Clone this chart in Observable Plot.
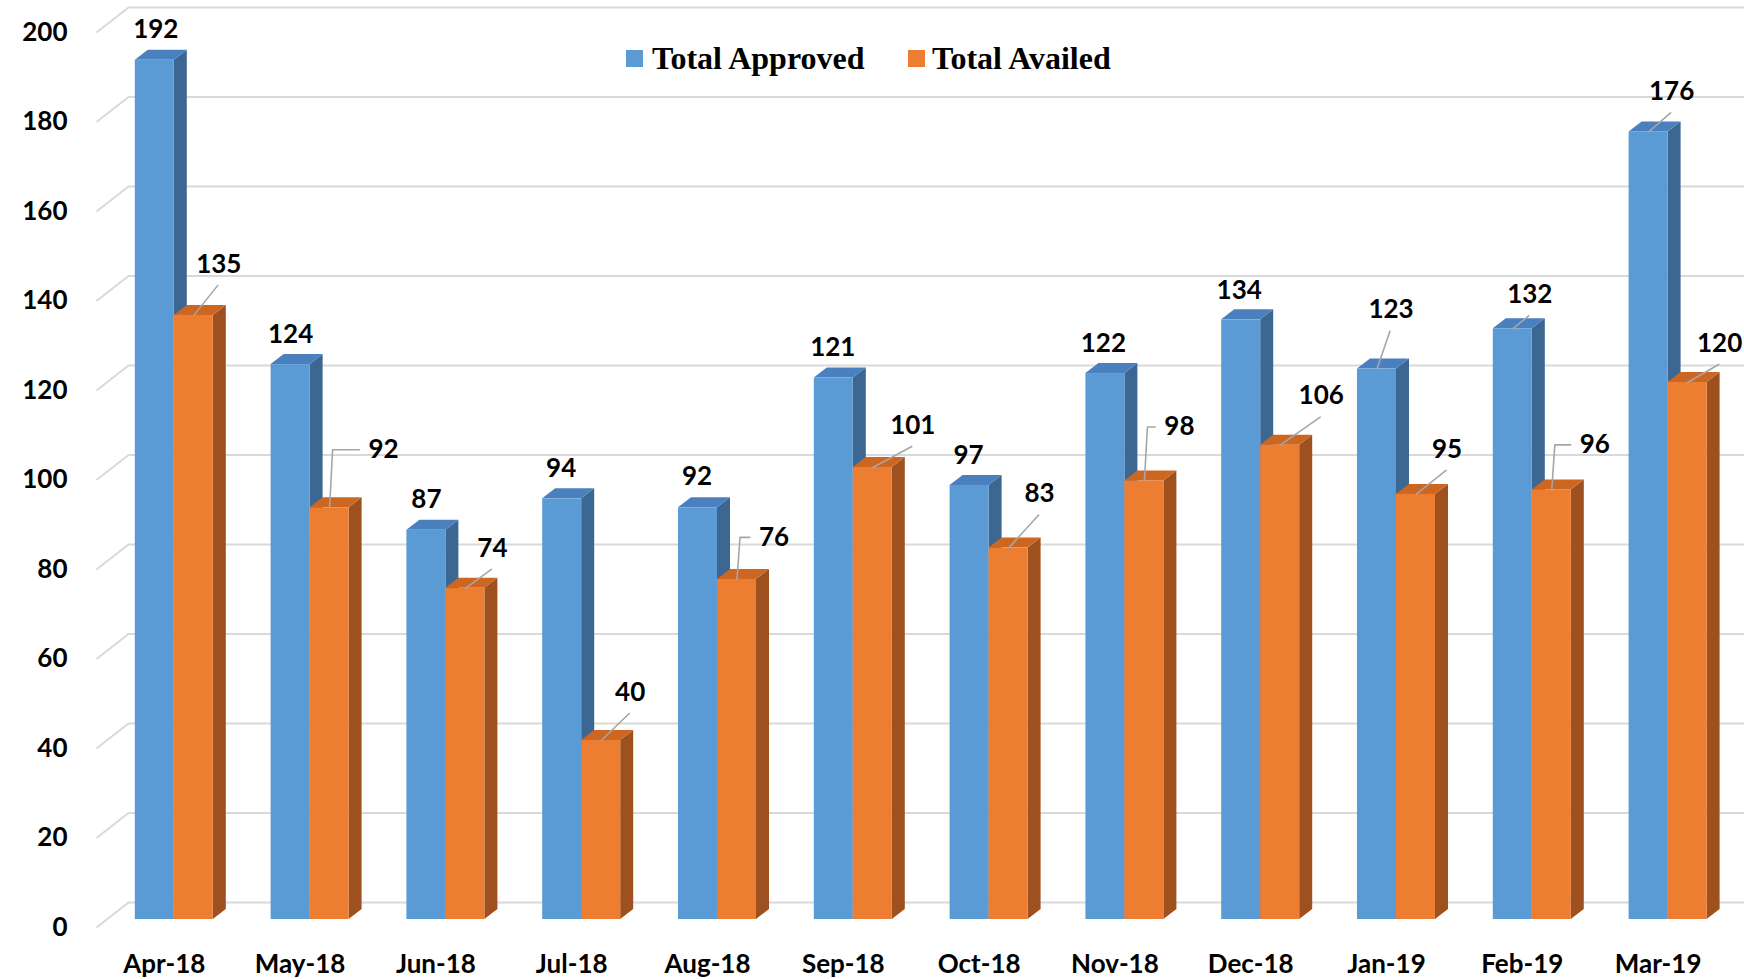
<!DOCTYPE html>
<html>
<head>
<meta charset="utf-8">
<script src="https://cdn.jsdelivr.net/npm/d3@7"></script>
<script src="https://cdn.jsdelivr.net/npm/@observablehq/plot@0.6"></script>
<style>
  html, body { margin: 0; padding: 0; background: #fff; overflow: hidden; }
  #wrap { position: relative; width: 1744px; height: 979px; }
  #wrap svg { display: block; }
  .lg { position: absolute; font-family: "Liberation Serif", "Times New Roman", serif; font-weight: bold; font-size: 32px; line-height: 32px; color: #000; white-space: nowrap; }
  .sw { position: absolute; width: 17px; height: 17px; }
</style>
</head>
<body>
<div id="wrap"></div>
<script>
// ---------------- data ----------------
const months = ["Apr-18", "May-18", "Jun-18", "Jul-18", "Aug-18", "Sep-18",
                "Oct-18", "Nov-18", "Dec-18", "Jan-19", "Feb-19", "Mar-19"];
const totalApproved = [192, 124, 87, 94, 92, 121, 97, 122, 134, 123, 132, 176];
const totalAvailed  = [135, 92, 74, 40, 76, 101, 83, 98, 106, 95, 96, 120];
const seriesNames = ["Total Approved", "Total Availed"];
const yTicks = [0, 20, 40, 60, 80, 100, 120, 140, 160, 180, 200];

// ---------------- layout / style (kept apart from the data) ----------------
const COLORS = [
  { front: "#5B9BD5", side: "#3C6792", top: "#4B80BE" },
  { front: "#ED7D31", side: "#9E511E", top: "#CD6621" }
];
// data-label nudges in pixels from the bar's top-front centre: [dx, dy, leader]
const NUDGE = [
  [[1,-31,null],[0,-30,null],[0,-31,null],[-1,-30,null],[-1,-31,null],[-1,-30,null],
   [-1,-30,null],[-2,-30,null],[-2,-29,null],[14,-59,"s"],[17,-34,"s"],[23,-40,"s"]],
  [[25,-51,"s"],[54,-58,"e"],[27,-40,"s"],[29,-48,"s"],[37,-42,"e"],[40,-42,"s"],
   [31,-54,"s"],[35,-54,"e"],[41,-49,"s"],[31,-45,"s"],[43,-45,"e"],[32,-39,"s"]]
];

const FONT_PX = 26;
const X_DOMAIN = [-1, 12], X_RANGE = [-1, 1764.4];
const Y_DOMAIN = [0, 200],  Y_RANGE = [919, 24];
const kx = (X_RANGE[1] - X_RANGE[0]) / (X_DOMAIN[1] - X_DOMAIN[0]);
const ky = (Y_RANGE[0] - Y_RANGE[1]) / (Y_DOMAIN[1] - Y_DOMAIN[0]);
const pxX = px => px / kx;                       // pixel length -> x units
const pxY = px => px / ky;                       // pixel length -> y units
const atPxX = px => X_DOMAIN[0] + (px - X_RANGE[0]) / kx;

const BAR_W = pxX(39);
const DX = pxX(13), DY = pxY(10);                // 3-D depth of the bars

const seriesData = [totalApproved, totalAvailed];
const bars = seriesData.map((vals, s) => months.map((m, i) => ({
  s, i, month: m, series: seriesNames[s], value: vals[i],
  x1: i + s * BAR_W, x2: i + (s + 1) * BAR_W
})));

function barMarks(s) {
  const b = bars[s];
  const side = b.flatMap(d => [
    { k: d.i, x: d.x2,      y1: 0,  y2: d.value },
    { k: d.i, x: d.x2 + DX, y1: DY, y2: d.value + DY }
  ]);
  const top = b.flatMap(d => [
    { k: d.i, x: d.x1,      y1: d.value,      y2: d.value },
    { k: d.i, x: d.x1 + DX, y1: d.value,      y2: d.value + DY },
    { k: d.i, x: d.x2,      y1: d.value,      y2: d.value + DY },
    { k: d.i, x: d.x2 + DX, y1: d.value + DY, y2: d.value + DY }
  ]);
  return [
    Plot.areaY(side, { x: "x", y1: "y1", y2: "y2", z: "k", fill: COLORS[s].side }),
    Plot.areaY(top,  { x: "x", y1: "y1", y2: "y2", z: "k", fill: COLORS[s].top }),
    Plot.rect(b, { x1: "x1", x2: "x2", y1: 0, y2: "value", fill: COLORS[s].front })
  ];
}

const labels = seriesData.flatMap((vals, s) => vals.map((v, i) => {
  const [ndx, ndy, leader] = NUDGE[s][i];
  const cx = i + (s + 0.5) * BAR_W;
  return { s, i, v, cx, lx: cx + pxX(ndx), ly: v - pxY(ndy), leader, key: s + "-" + i };
}));

const leaders = labels.filter(d => d.leader).flatMap(d => {
  if (d.leader === "s") return [
    { k: d.key, x: d.cx, y: d.v },
    { k: d.key, x: d.lx - pxX(1), y: d.ly - pxY(21) }
  ];
  const half = String(d.v).length * 7.6;
  return [
    { k: d.key, x: d.cx, y: d.v },
    { k: d.key, x: d.cx + pxX(3), y: d.ly },
    { k: d.key, x: d.lx - pxX(half + 9), y: d.ly }
  ];
});

const chart = Plot.plot({
  width: 1744, height: 979,
  marginLeft: 128, marginRight: 0, marginTop: 0, marginBottom: 0,
  x: { type: "linear", domain: X_DOMAIN, range: X_RANGE, axis: null },
  y: { type: "linear", domain: Y_DOMAIN, range: Y_RANGE, axis: null },
  style: { fontFamily: "Lato, 'Open Sans', sans-serif", fontSize: FONT_PX + "px", fontWeight: "700", color: "#000", background: "#fff" },
  marks: [
    // back wall gridlines and the left side-wall diagonals
    Plot.ruleY(yTicks, { y: d => d, x1: atPxX(128), x2: X_DOMAIN[1], dy: -17, stroke: "#d9d9d9", strokeWidth: 2.2 }),
    Plot.link(yTicks, { x1: atPxX(96), y1: d => d - pxY(8), x2: atPxX(128), y2: d => d + pxY(17), stroke: "#d9d9d9", strokeWidth: 2 }),
    Plot.axisY(yTicks, { anchor: "left", tickSize: 0, tickPadding: 61, dy: 8, label: null, fontSize: FONT_PX, fontWeight: "bold" }),
    ...barMarks(0),
    ...barMarks(1),
    Plot.line(leaders, { x: "x", y: "y", z: "k", stroke: "#a6a6a6", strokeWidth: 1.6 }),
    Plot.text(labels, { x: "lx", y: "ly", text: d => String(d.v), fill: "#000", fontSize: FONT_PX, fontWeight: "bold" }),
    Plot.text(months, { x: (d, i) => i + BAR_W, y: 0, dx: -10, dy: 45, text: d => d, fill: "#000", fontSize: FONT_PX, fontWeight: "bold" })
  ]
});

const wrap = document.getElementById("wrap");
wrap.appendChild(chart);

// legend (overlaid on the chart, as in the original)
const legendItems = [
  { name: seriesNames[0], color: COLORS[0].front, sq: 626, tx: 652 },
  { name: seriesNames[1], color: COLORS[1].front, sq: 908, tx: 932 }
];
for (const it of legendItems) {
  const sw = document.createElement("div");
  sw.className = "sw";
  sw.style.left = it.sq + "px"; sw.style.top = "50px"; sw.style.background = it.color;
  wrap.appendChild(sw);
  const tx = document.createElement("div");
  tx.className = "lg";
  tx.style.left = it.tx + "px"; tx.style.top = "42px";
  tx.textContent = it.name;
  wrap.appendChild(tx);
}
</script>
</body>
</html>
